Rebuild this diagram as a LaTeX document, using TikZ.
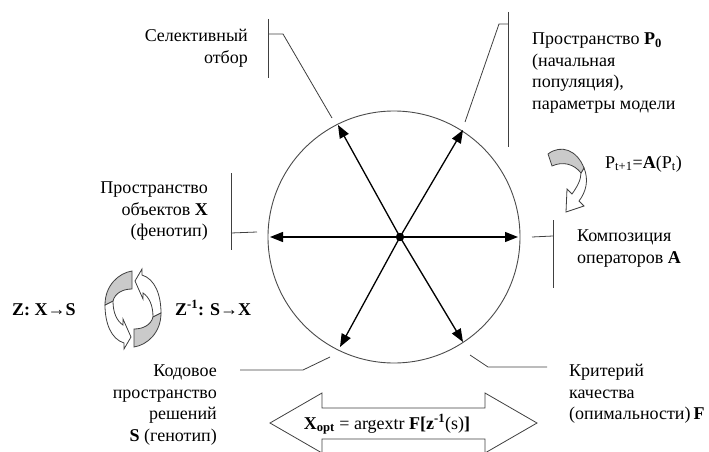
\documentclass[tikz,border=0pt]{standalone}
\usepackage{fontspec}
\setmainfont{Liberation Serif}
\usetikzlibrary{arrows.meta}
\definecolor{lnline}{HTML}{404040}
\definecolor{rimgray}{HTML}{4A4A4A}
\definecolor{bandgray}{HTML}{CACACA}

% one half of the Z / Z^-1 cycle (local coords, y down)
\newcommand{\ringarrow}{%
  \filldraw[fill=white, draw=lnline, line width=0.8pt, line join=miter]
    (2,-28) -- (9,-40) -- (9,-34) .. controls (22,-30) and (28,-14) .. (28,4)
    -- (20,8) .. controls (20,-4) and (16,-12) .. (10,-16) -- (10,-10) -- cycle;
  \filldraw[fill=bandgray, draw=lnline, line width=0.8pt]
    (28,4) .. controls (28,24) and (14,36) .. (1,38) -- (1,20)
    .. controls (10,20) and (18,16) .. (20,8) -- cycle;
}

\begin{document}
\begin{tikzpicture}[x=1pt, y=-1pt,
  txt/.style={font=\fontsize{18}{21.5}\selectfont, inner sep=0pt},
  callout/.style={draw=lnline, line width=0.8pt},
  ray/.style={-{Triangle[length=13pt, width=10pt]}, line width=1.3pt},
  blockarrow/.style={draw=lnline, line width=0.8pt, fill=white, line join=miter}]
\useasboundingbox (0,0) rectangle (709,452);

% === Circle with six rays ===
\coordinate (hub) at (400,237);
\coordinate (rW)  at (270,237);
\coordinate (rE)  at (518,237);
\coordinate (rNW) at (338,125);
\coordinate (rNE) at (463,130);
\coordinate (rSW) at (340,347);
\coordinate (rSE) at (463,342);
\draw[rimgray, line width=0.9pt] (394,237) circle (126pt);
\foreach \e in {rW,rE,rNW,rNE,rSW,rSE}
  \draw[ray] (hub) -- (\e);
\fill (hub) circle (4.2pt);

% === Labels ===
\node[txt, align=right, anchor=north east] (sel) at (248,29)
  {Селективный\\отбор};
\node[txt, align=left, anchor=north west] (pzero) at (532,33)
  {Пространство \textbf{P}\textsubscript{\textbf{0}}\\(начальная\\популяция),\\параметры модели};
\node[txt, align=right, anchor=north east] (objx) at (208,182)
  {Пространство\\объектов \textbf{X}\\(фенотип)};
\node[txt, align=left, anchor=north west] (comp) at (577,230)
  {Композиция\\операторов \textbf{A}};
\node[txt, align=left, anchor=north west] (crit) at (569,364)
  {Критерий\\качества\\(опимальности)\,\textbf{F}};
\node[txt, align=right, anchor=north east] (code) at (217,365)
  {Кодовое\\пространство\\решений\\\textbf{S} (генотип)};
\node[txt, anchor=base west] (zfwd) at (12,315)
  {\textbf{Z: X→S}};
\node[txt, anchor=base west] (zinv) at (175,315)
  {\textbf{Z}\textsuperscript{\textbf{-1}}\textbf{: S→X}};
\node[txt, anchor=base west] (pstep) at (605,168)
  {P\textsubscript{t+1}=\textbf{A}(P\textsubscript{t})};

% === Callout lines ===
\coordinate (selA) at (332,118);
\draw[callout] (268,19) -- (268,78);
\draw[callout] (268,34) -- (283,34) -- (selA);
\coordinate (pzA) at (465,122);
\draw[callout] (508,12) -- (508,147);
\draw[callout] (508,24) -- (499,24) -- (pzA);
\coordinate (objA) at (257,232);
\draw[callout] (231,173) -- (231,250);
\draw[callout] (231,233) -- (objA);
\coordinate (compA) at (532,237);
\draw[callout] (553,220) -- (553,288);
\draw[callout] (553,236) -- (compA);
\coordinate (critA) at (470,355);
\draw[callout] (critA) -- (488,367) -- (547,367);
\coordinate (codeA) at (330,357);
\draw[callout] (codeA) -- (303,370) -- (240,370);

% === Curved arrows ===
\begin{scope}[shift={(133,309)}]
  \ringarrow
  \begin{scope}[rotate=180]
    \ringarrow
  \end{scope}
\end{scope}

\begin{scope}[shift={(555,140)}]
  \filldraw[fill=white, draw=lnline, line width=0.8pt, line join=miter]
    (29,28) .. controls (34,40) and (31,52) .. (24,61) -- (29,66) -- (11,72)
    -- (12,49) -- (17,54) .. controls (22,47) and (26,40) .. (26,33) -- cycle;
  \filldraw[fill=bandgray, draw=lnline, line width=0.8pt]
    (-7,14) .. controls (6,4) and (22,10) .. (29,28) -- (26,33)
    .. controls (19,24) and (8,21) .. (-3,26) -- cycle;
\end{scope}

% === Double block arrow ===
\draw[blockarrow] (270,423) -- (322,393) -- (322,408) -- (485,408) -- (485,393)
  -- (537,423) -- (485,453) -- (485,439) -- (322,439) -- (322,453) -- cycle;
\node[txt, anchor=base] (xopt) at (387,429)
  {\textbf{X\textsubscript{opt}} = argextr \textbf{F[z}\textsuperscript{\textbf{-1}}(s)\textbf{]}};

\end{tikzpicture}
\end{document}
